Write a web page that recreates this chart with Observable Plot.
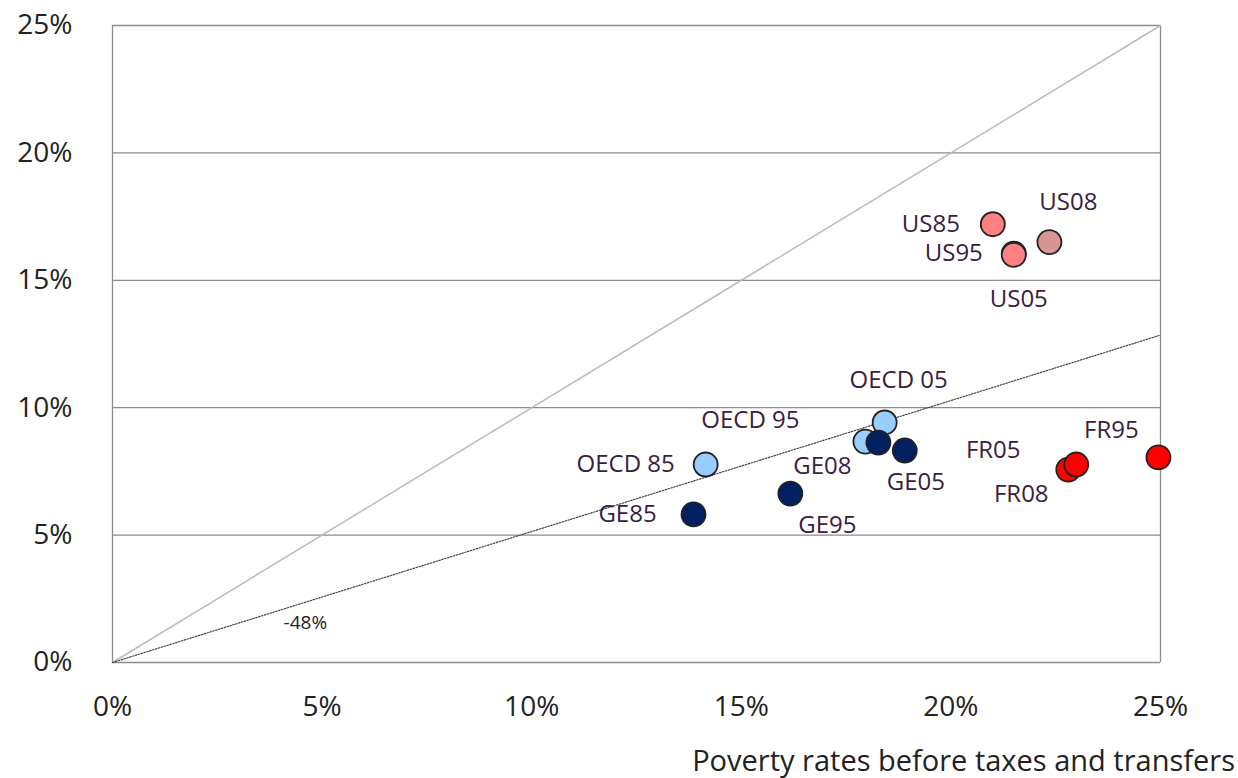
<!DOCTYPE html>
<html><head><meta charset="utf-8">
<script src="https://cdn.jsdelivr.net/npm/d3@7"></script>
<script src="https://cdn.jsdelivr.net/npm/@observablehq/plot@0.6"></script>
<style>
body{margin:0;background:#fff;font-family:"Open Sans",sans-serif;}
#xl{position:absolute;left:0;top:740px;width:1235px;text-align:right;font-size:29px;color:#222;white-space:nowrap;}
</style></head><body>
<div id="chart"></div>
<div id="xl">Poverty rates before taxes and transfers</div>
<script>
const labels = ["US85","US95","US05","US08","OECD 85","OECD 95","OECD 05","GE85","GE95","GE05","GE08","FR05","FR95","FR08"];
const before = [21.0,21.5,21.5,22.35,14.15,17.96,18.42,13.86,16.17,18.9,18.27,22.99,24.95,22.8];
const after  = [17.2,16.05,16.0,16.5,7.77,8.67,9.42,5.81,6.63,8.32,8.63,7.77,8.05,7.57];
const colors = ["#ff8080","#ff8080","#ff8080","#d99594","#99ccff","#99ccff","#99ccff","#002060","#002060","#002060","#002060","#ff0000","#ff0000","#ff0000"];
const ticks = [0,5,10,15,20,25];
const slope = 0.514;
// label offsets in px
const ldx = [-62,-60,5,19,-80,-115,14,-66,37,11,-56,-83,-47,-47];
const ldy = [0,0,44,-40,0,-21,-42,0,32,32,24,-14,-27,25];

const data = labels.map((l,i)=>({l,x:before[i],y:after[i],c:colors[i],dx:ldx[i],dy:ldy[i]}));
const order = [4,5,6,10,7,8,9,0,1,2,3,13,11,12].map(i=>data[i]);

const plot = Plot.plot({
  width:1238, height:722,
  marginLeft:112, marginRight:78, marginTop:25, marginBottom:60,
  style:{fontSize:"28px",fontFamily:"'Open Sans',sans-serif",color:"#222",overflow:"visible"},
  x:{domain:[0,25],ticks,tickFormat:d=>d+"%",label:null,tickSize:0,tickPadding:34},
  y:{domain:[0,25],ticks,tickFormat:d=>d+"%",label:null,tickSize:0,tickPadding:40},
  marks:[
    Plot.ruleY(ticks.slice(1),{stroke:"#8c8c8c",strokeWidth:1.3}),
    Plot.ruleX([0,25],{stroke:"#8c8c8c",strokeWidth:1.3}),
    Plot.ruleY([0],{stroke:"#8c8c8c",strokeWidth:1.3}),
    Plot.line([[0,0],[25,25]],{stroke:"#bbb",strokeWidth:1.5}),
    Plot.line([[0,0],[25,25*slope]],{stroke:"#444",strokeWidth:1.2,strokeDasharray:"1.5,1.5"}),
    Plot.text(["-48%"],{x:4.6,y:1.57,text:d=>d,fontSize:19,fill:"#222"}),
    Plot.dot(order,{x:"x",y:"y",r:12,fill:"c",stroke:"#222",strokeWidth:1.8}),
    ...data.map(d=>Plot.text([d],{x:"x",y:"y",text:"l",dx:d.dx,dy:d.dy,fontSize:24,fill:"#3a2040"}))
  ]
});
document.getElementById("chart").append(plot);
</script></body></html>
